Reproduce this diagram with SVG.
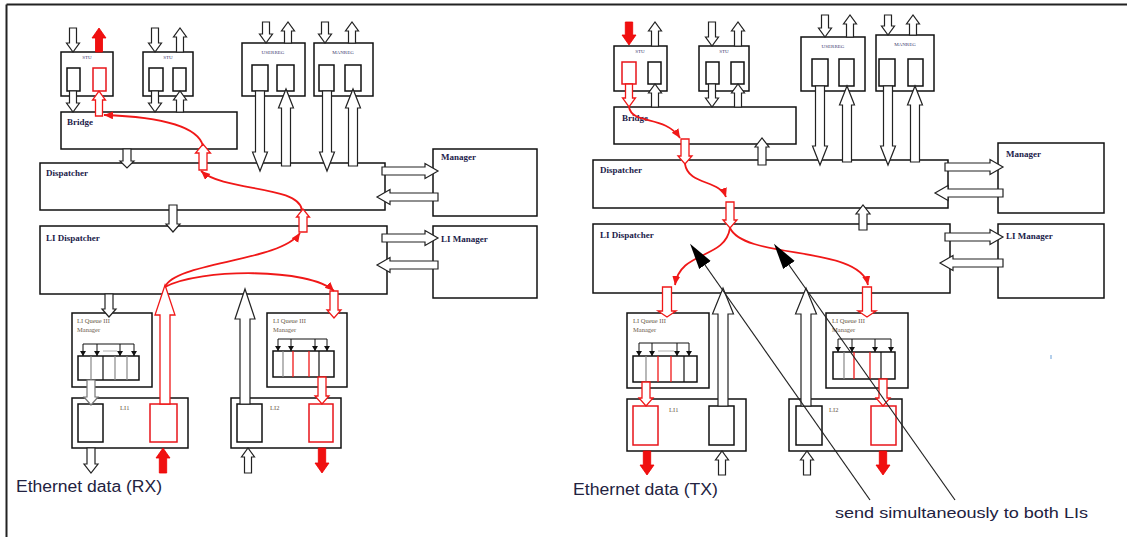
<svg xmlns="http://www.w3.org/2000/svg" width="1127" height="537" viewBox="0 0 1127 537">
<style>
.box{fill:#fff;stroke:#111;stroke-width:1.5}
.in{fill:#fff;stroke:#111;stroke-width:1.5}
.inr{fill:#fff;stroke:#e8141a;stroke-width:1.5}
.ha{fill:#fff;stroke:#222;stroke-width:1.2;stroke-linejoin:miter}
.hr{fill:#fff;stroke:#f01818;stroke-width:1.3}
.fr{fill:#f01010;stroke:#e00;stroke-width:0.8}
.cv{fill:none;stroke:#f01818;stroke-width:1.8;marker-end:url(#rh)}
.ql{fill:none;stroke:#111;stroke-width:1}
.qa{fill:none;stroke:#111;stroke-width:1;marker-end:url(#bh)}
.dg{stroke:#888;stroke-width:1.2}
.dk{stroke:#111;stroke-width:1.2}
.dr{stroke:#f01818;stroke-width:1.3}
.co{stroke:#222;stroke-width:1.2;fill:none;marker-start:url(#ch)}
.lb{font-family:"Liberation Serif",serif;font-weight:bold;font-size:9px;fill:#1c1c4a}
.tn{font-family:"Liberation Serif",serif;font-size:5px;fill:#3a3a70}
.qt{font-family:"Liberation Serif",serif;font-size:6.5px;fill:#6b5a4a}
.big{font-family:"Liberation Sans",Arial,sans-serif;font-size:16px;fill:#222240}
</style>
<defs>
<marker id="rh" markerUnits="userSpaceOnUse" markerWidth="12" markerHeight="10" refX="9" refY="4" orient="auto"><path d="M0,0 L9,4 L0,8 Z" fill="#f01818"/></marker>
<marker id="bh" markerUnits="userSpaceOnUse" markerWidth="8" markerHeight="8" refX="5" refY="3" orient="auto"><path d="M0,0 L5,3 L0,6 Z" fill="#111"/></marker>
<marker id="ch" markerUnits="userSpaceOnUse" markerWidth="30" markerHeight="16" refX="0" refY="7" orient="auto-start-reverse"><path d="M0,0 L26,7 L0,14 Z" fill="#000"/></marker>
</defs>

<g id="frame">
<line x1="6.5" y1="4.5" x2="1127" y2="4.5" stroke="#222" stroke-width="2"/>
<line x1="6.5" y1="4.5" x2="6.5" y2="537" stroke="#222" stroke-width="2"/>
<line x1="1051" y1="355" x2="1051" y2="359" stroke="#6aa0d8" stroke-width="1"/>
</g>

<!-- LEFT DIAGRAM -->
<g id="L-stu1"><rect class="box" x="61" y="52" width="52" height="44"/><text class="tn" x="87" y="59" text-anchor="middle">STU</text><rect class="in" x="67" y="68" width="13" height="23"/><rect class="inr" x="93" y="68" width="13" height="23"/></g>
<g id="L-stu2"><rect class="box" x="143" y="52" width="50" height="44"/><text class="tn" x="168" y="59" text-anchor="middle">STU</text><rect class="in" x="149" y="68" width="14" height="23"/><rect class="in" x="173" y="68" width="13" height="23"/></g>
<g id="L-userreg"><rect class="box" x="242" y="43" width="63" height="53"/><text class="tn" x="273" y="54" text-anchor="middle">USERREG</text><rect class="in" x="252" y="65" width="16" height="26"/><rect class="in" x="277" y="65" width="17" height="26"/></g>
<g id="L-manreg"><rect class="box" x="314" y="43" width="59" height="53"/><text class="tn" x="343" y="54" text-anchor="middle">MANREG</text><rect class="in" x="319" y="65" width="15" height="26"/><rect class="in" x="345" y="65" width="16" height="26"/></g>
<g id="L-bridge"><rect class="box" x="61" y="112" width="176" height="37"/><text class="lb" x="67" y="125">Bridge</text></g>
<g id="L-dispatcher"><rect class="box" x="40" y="163" width="345" height="47"/><text class="lb" x="46" y="176">Dispatcher</text></g>
<g id="L-lidispatcher"><rect class="box" x="40" y="226" width="347" height="68"/><text class="lb" x="46" y="241">LI Dispatcher</text></g>
<g id="L-manager"><rect class="box" x="433" y="149" width="104" height="67"/><text class="lb" x="441" y="160">Manager</text></g>
<g id="L-limanager"><rect class="box" x="433" y="226" width="104" height="72"/><text class="lb" x="441" y="242">LI Manager</text></g>
<g id="L-queue1"><rect class="box" x="72" y="313" width="80" height="74"/><text class="qt" x="77" y="323">LI Queue III</text><text class="qt" x="77" y="332">Manager</text>
<rect class="in" x="78" y="356" width="61" height="24"/>
<line class="dg" x1="91" y1="356" x2="91" y2="380"/><line class="dk" x1="103" y1="356" x2="103" y2="380"/><line class="dg" x1="115" y1="356" x2="115" y2="380"/><line class="dg" x1="127" y1="356" x2="127" y2="380"/>
<line class="ql" x1="83" y1="344" x2="134" y2="344"/><line x1="103" y1="351" x2="117" y2="351" stroke="#999" stroke-width="0.8"/>
<line class="qa" x1="83" y1="344" x2="83" y2="356"/><line class="qa" x1="97" y1="344" x2="97" y2="356"/><line class="qa" x1="120" y1="344" x2="120" y2="356"/><line class="qa" x1="134" y1="344" x2="134" y2="356"/></g>
<g id="L-queue2"><rect class="box" x="267" y="313" width="80" height="74"/><text class="qt" x="273" y="323">LI Queue III</text><text class="qt" x="273" y="332">Manager</text>
<rect class="in" x="273" y="351" width="61" height="26"/>
<line class="dg" x1="283" y1="351" x2="283" y2="377"/><line class="dr" x1="293" y1="351" x2="293" y2="377"/><line class="dr" x1="309" y1="351" x2="309" y2="377"/><line class="dk" x1="319" y1="351" x2="319" y2="377"/>
<line class="ql" x1="278" y1="339" x2="327" y2="339"/>
<line class="qa" x1="278" y1="339" x2="278" y2="351"/><line class="qa" x1="291" y1="339" x2="291" y2="351"/><line class="qa" x1="315" y1="339" x2="315" y2="351"/><line class="qa" x1="327" y1="339" x2="327" y2="351"/></g>
<g id="L-li1"><rect class="box" x="72" y="398" width="116" height="50"/><text class="qt" x="120" y="410">LI1</text><rect class="in" x="78" y="404" width="25" height="38"/><rect class="inr" x="150" y="404" width="27" height="38"/></g>
<g id="L-li2"><rect class="box" x="231" y="398" width="110" height="50"/><text class="qt" x="270" y="410">LI2</text><rect class="in" x="237" y="404" width="25" height="38"/><rect class="inr" x="309" y="404" width="24" height="38"/></g>
<text class="big" x="16" y="492" textLength="146" lengthAdjust="spacingAndGlyphs">Ethernet data (RX)</text>

<!-- RIGHT DIAGRAM -->
<g id="R-stu1"><rect class="box" x="614" y="46" width="53" height="45"/><text class="tn" x="640" y="53" text-anchor="middle">STU</text><rect class="inr" x="622" y="62" width="14" height="22"/><rect class="in" x="648" y="62" width="13" height="22"/></g>
<g id="R-stu2"><rect class="box" x="699" y="46" width="50" height="45"/><text class="tn" x="724" y="53" text-anchor="middle">STU</text><rect class="in" x="706" y="62" width="13" height="22"/><rect class="in" x="731" y="62" width="13" height="22"/></g>
<g id="R-userreg"><rect class="box" x="801" y="37" width="64" height="54"/><text class="tn" x="833" y="48" text-anchor="middle">USERREG</text><rect class="in" x="812" y="59" width="16" height="27"/><rect class="in" x="839" y="59" width="15" height="27"/></g>
<g id="R-manreg"><rect class="box" x="876" y="35" width="58" height="56"/><text class="tn" x="905" y="46" text-anchor="middle">MANREG</text><rect class="in" x="879" y="59" width="16" height="27"/><rect class="in" x="908" y="59" width="15" height="27"/></g>
<g id="R-bridge"><rect class="box" x="614" y="107" width="182" height="37"/><text class="lb" x="622" y="121">Bridge</text></g>
<g id="R-dispatcher"><rect class="box" x="593" y="160" width="355" height="48"/><text class="lb" x="600" y="173">Dispatcher</text></g>
<g id="R-lidispatcher"><rect class="box" x="593" y="224" width="357" height="69"/><text class="lb" x="600" y="238">LI Dispatcher</text></g>
<g id="R-manager"><rect class="box" x="998" y="143" width="106" height="70"/><text class="lb" x="1006" y="157">Manager</text></g>
<g id="R-limanager"><rect class="box" x="998" y="224" width="106" height="74"/><text class="lb" x="1006" y="239">LI Manager</text></g>
<g id="R-queue1"><rect class="box" x="627" y="313" width="82" height="75"/><text class="qt" x="633" y="323">LI Queue III</text><text class="qt" x="633" y="332">Manager</text>
<rect class="in" x="633" y="356" width="64" height="26"/>
<line class="dg" x1="646" y1="356" x2="646" y2="382"/><line class="dr" x1="658" y1="356" x2="658" y2="382"/><line class="dr" x1="671" y1="356" x2="671" y2="382"/><line class="dk" x1="684" y1="356" x2="684" y2="382"/>
<line class="ql" x1="639" y1="343" x2="689" y2="343"/><line x1="658" y1="351" x2="674" y2="351" stroke="#999" stroke-width="0.8"/>
<line class="qa" x1="639" y1="343" x2="639" y2="356"/><line class="qa" x1="652" y1="343" x2="652" y2="356"/><line class="qa" x1="677" y1="343" x2="677" y2="356"/><line class="qa" x1="689" y1="343" x2="689" y2="356"/></g>
<g id="R-queue2"><rect class="box" x="826" y="313" width="82" height="75"/><text class="qt" x="832" y="323">LI Queue III</text><text class="qt" x="832" y="332">Manager</text>
<rect class="in" x="833" y="352" width="62" height="27"/>
<line class="dg" x1="844" y1="352" x2="844" y2="379"/><line class="dr" x1="854" y1="352" x2="854" y2="379"/><line class="dr" x1="870" y1="352" x2="870" y2="379"/><line class="dk" x1="881" y1="352" x2="881" y2="379"/>
<line class="ql" x1="838" y1="339" x2="891" y2="339"/>
<line class="qa" x1="838" y1="339" x2="838" y2="352"/><line class="qa" x1="852" y1="339" x2="852" y2="352"/><line class="qa" x1="875" y1="339" x2="875" y2="352"/><line class="qa" x1="891" y1="339" x2="891" y2="352"/></g>
<g id="R-li1"><rect class="box" x="627" y="399" width="119" height="52"/><text class="qt" x="669" y="412">LI1</text><rect class="inr" x="633" y="406" width="25" height="39"/><rect class="in" x="709" y="406" width="25" height="39"/></g>
<g id="R-li2"><rect class="box" x="789" y="399" width="113" height="52"/><text class="qt" x="829" y="412">LI2</text><rect class="in" x="796" y="406" width="26" height="39"/><rect class="inr" x="871" y="406" width="25" height="39"/></g>
<text class="big" x="573" y="495" textLength="145" lengthAdjust="spacingAndGlyphs">Ethernet data (TX)</text>
<text class="big" x="835" y="518" font-size="15" textLength="253" lengthAdjust="spacingAndGlyphs" style="font-size:15px">send simultaneously to both LIs</text>

<g id="connectors">
<!-- left -->
<polygon class="ha" points="69.5,28 76.5,28 76.5,43 79.5,43 73,52 66.5,43 69.5,43"/>
<polygon class="fr" points="95.5,52 102.5,52 102.5,38 106,38 99,28 92,38 95.5,38"/>
<polygon class="ha" points="151.5,28 158.5,28 158.5,43 161.5,43 155,52 148.5,43 151.5,43"/>
<polygon class="ha" points="176.5,52 183.5,52 183.5,37 186.5,37 180,28 173.5,37 176.5,37"/>
<polygon class="ha" points="262.5,22 269.5,22 269.5,34 272.5,34 266,43 259.5,34 262.5,34"/>
<polygon class="ha" points="284.5,43 291.5,43 291.5,31 294.5,31 288,22 281.5,31 284.5,31"/>
<polygon class="ha" points="321.5,22 328.5,22 328.5,34 331.5,34 325,43 318.5,34 321.5,34"/>
<polygon class="ha" points="348.5,43 355.5,43 355.5,31 358.5,31 352,22 345.5,31 348.5,31"/>
<polygon class="ha" points="69.5,91 76.5,91 76.5,103 79.5,103 73,112 66.5,103 69.5,103"/>
<polygon class="hr" points="95.5,116 102.5,116 102.5,100 105.5,100 99,91 92.5,100 95.5,100"/>
<polygon class="ha" points="151.5,91 158.5,91 158.5,103 161.5,103 155,112 148.5,103 151.5,103"/>
<polygon class="ha" points="176.5,112 183.5,112 183.5,100 186.5,100 180,91 173.5,100 176.5,100"/>
<polygon class="ha" points="255.5,91 264.5,91 264.5,152 267.5,152 260,171 252.5,152 255.5,152"/>
<polygon class="ha" points="281.5,166 290.5,166 290.5,108 293.5,108 286,89 278.5,108 281.5,108"/>
<polygon class="ha" points="322.5,91 331.5,91 331.5,152 334.5,152 327,171 319.5,152 322.5,152"/>
<polygon class="ha" points="348.5,166 357.5,166 357.5,108 360.5,108 353,89 345.5,108 348.5,108"/>
<polygon class="ha" points="123,149 131,149 131,161 134,161 127,168 120,161 123,161"/>
<polygon class="hr" points="199,170 207,170 207,153 210.5,153 203,144 195.5,153 199,153"/>
<polygon class="ha" points="169,205 177,205 177,224 180,224 173,232 166,224 169,224"/>
<polygon class="hr" points="299,232 307,232 307,217 309.5,217 303,209 296.5,217 299,217"/>
<polygon class="ha" points="382,167 425,167 425,163.5 438,171 425,178.5 425,175 382,175"/>
<polygon class="ha" points="438,193 390,193 390,189.5 377,197 390,204.5 390,201 438,201"/>
<polygon class="ha" points="382,234 425,234 425,230.5 438,238 425,245.5 425,242 382,242"/>
<polygon class="ha" points="438,261 390,261 390,257.5 377,265 390,272.5 390,269 438,269"/>
<polygon class="ha" points="105,294 113,294 113,309 116,309 109,317 102,309 105,309"/>
<polygon class="ha" style="stroke:#777" points="87,380 95,380 95,397 98,397 91,405 84,397 87,397"/>
<polygon class="hr" points="160,404 170,404 170,315 175,315 165,285 155,315 160,315"/>
<polygon class="ha" points="240,404 250,404 250,319 255,319 245,289 235,319 240,319"/>
<polygon class="hr" points="330,291 338,291 338,310 341,310 334,318 327,310 330,310"/>
<polygon class="hr" points="318,377 326,377 326,396 329,396 322,404 315,396 318,396"/>
<polygon class="ha" points="87,448 95,448 95,464 98,464 91,473 84,464 87,464"/>
<polygon class="fr" points="159.3,473 166.7,473 166.7,458 170,458 163,448 156,458 159.3,458"/>
<polygon class="ha" points="244.5,473 251.5,473 251.5,457 254.5,457 248,448 241.5,457 244.5,457"/>
<polygon class="fr" points="318.3,448 325.7,448 325.7,463 329,463 322,473 315,463 318.3,463"/>
<path class="cv" d="M203,146 C198,126 160,117 104,115"/>
<path class="cv" d="M302,210 C298,185 225,192 201,171"/>
<path class="cv" d="M165,287 C175,262 280,262 300,233"/>
<path class="cv" d="M165,287 C200,268 310,268 334,291"/>
<!-- right -->
<polygon class="fr" points="625.3,22 632.7,22 632.7,35 636,35 629,45 622,35 625.3,35"/>
<polygon class="ha" points="651.5,46 658.5,46 658.5,31 661.5,31 655,22 648.5,31 651.5,31"/>
<polygon class="ha" points="708.5,22 715.5,22 715.5,37 718.5,37 712,46 705.5,37 708.5,37"/>
<polygon class="ha" points="734.5,46 741.5,46 741.5,31 744.5,31 738,22 731.5,31 734.5,31"/>
<polygon class="ha" points="821.5,15 828.5,15 828.5,28 831.5,28 825,37 818.5,28 821.5,28"/>
<polygon class="ha" points="846.5,37 853.5,37 853.5,24 856.5,24 850,15 843.5,24 846.5,24"/>
<polygon class="ha" points="884.5,15 891.5,15 891.5,26 894.5,26 888,35 881.5,26 884.5,26"/>
<polygon class="ha" points="909.5,35 916.5,35 916.5,24 919.5,24 913,15 906.5,24 909.5,24"/>
<polygon class="hr" points="625.5,84 632.5,84 632.5,98 635.5,98 629,107 622.5,98 625.5,98"/>
<polygon class="ha" points="651.5,107 658.5,107 658.5,93 661.5,93 655,84 648.5,93 651.5,93"/>
<polygon class="ha" points="708.5,84 715.5,84 715.5,98 718.5,98 712,107 705.5,98 708.5,98"/>
<polygon class="ha" points="734.5,107 741.5,107 741.5,93 744.5,93 738,84 731.5,93 734.5,93"/>
<polygon class="ha" points="815.5,86 824.5,86 824.5,146 827.5,146 820,165 812.5,146 815.5,146"/>
<polygon class="ha" points="842.5,162 851.5,162 851.5,105 854.5,105 847,86 839.5,105 842.5,105"/>
<polygon class="ha" points="883.5,86 892.5,86 892.5,146 895.5,146 888,165 880.5,146 883.5,146"/>
<polygon class="ha" points="910.5,162 919.5,162 919.5,105 922.5,105 915,86 907.5,105 910.5,105"/>
<polygon class="hr" points="681,139 689,139 689,156 692,156 685,164 678,156 681,156"/>
<polygon class="ha" points="758,165 766,165 766,147 769,147 762,138 755,147 758,147"/>
<polygon class="hr" points="726,202 734,202 734,220 737,220 730,228 723,220 726,220"/>
<polygon class="ha" points="859,230 867,230 867,214 870,214 863,205 856,214 859,214"/>
<polygon class="ha" points="945,163 990,163 990,159.5 1003,167 990,174.5 990,171 945,171"/>
<polygon class="ha" points="1003,189 948,189 948,185.5 935,193 948,200.5 948,197 1003,197"/>
<polygon class="ha" points="945,233 990,233 990,229.5 1003,237 990,244.5 990,241 945,241"/>
<polygon class="ha" points="1003,259 953,259 953,255.5 940,263 953,270.5 953,267 1003,267"/>
<polygon class="hr" points="662.5,287 671.5,287 671.5,311 676,311 667,317 658,311 662.5,311"/>
<polygon class="hr" points="862.5,287 871.5,287 871.5,311 876,311 867,317 858,311 862.5,311"/>
<polygon class="hr" points="642,382 650,382 650,398 653,398 646,406 639,398 642,398"/>
<polygon class="hr" points="879,379 887,379 887,398 890,398 883,406 876,398 879,398"/>
<polygon class="ha" points="718,406 728,406 728,314 733.5,314 723,288 712.5,314 718,314"/>
<polygon class="ha" points="801,406 811,406 811,314 816.5,314 806,288 795.5,314 801,314"/>
<polygon class="fr" points="643.3,451 650.7,451 650.7,465 654,465 647,475 640,465 643.3,465"/>
<polygon class="ha" points="718.5,475 725.5,475 725.5,460 728.5,460 722,451 715.5,460 718.5,460"/>
<polygon class="ha" points="803.5,475 810.5,475 810.5,460 813.5,460 807,451 800.5,460 803.5,460"/>
<polygon class="fr" points="879.3,451 886.7,451 886.7,465 890,465 883,475 876,465 879.3,465"/>
<path class="cv" d="M629,107 C632,125 665,115 680,138"/>
<path class="cv" d="M685,164 C688,185 720,180 726,197"/>
<path class="cv" d="M730,228 C725,260 680,250 675,285"/>
<path class="cv" d="M730,228 C745,260 860,245 868,285"/>
<line class="co" x1="705" y1="265" x2="870" y2="500"/>
<line class="co" x1="789" y1="265" x2="955" y2="500"/>
</g>
</svg>
